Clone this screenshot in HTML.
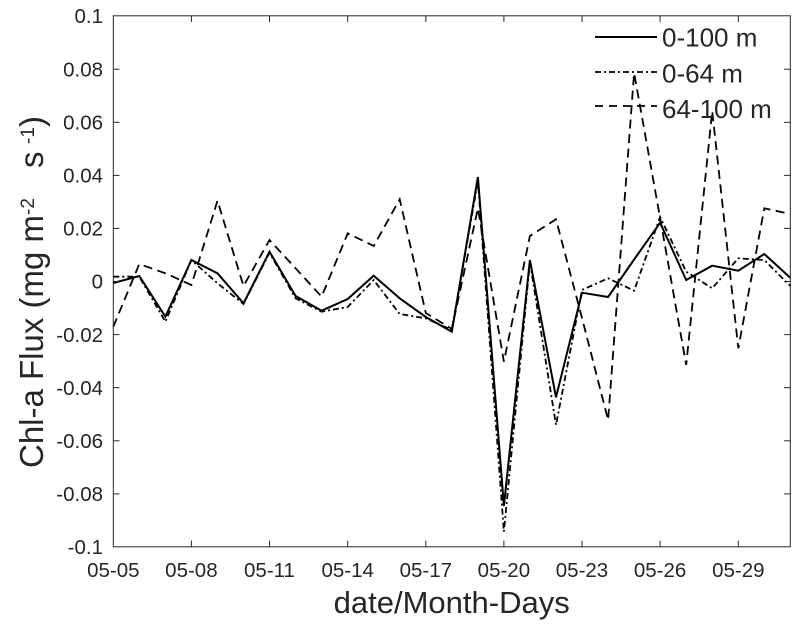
<!DOCTYPE html>
<html>
<head>
<meta charset="utf-8">
<style>
html,body{margin:0;padding:0;background:#fff;}
svg{display:block;}
text{font-family:"Liberation Sans",Arial,sans-serif;fill:#262626;}
</style>
</head>
<body>
<svg width="806" height="630" viewBox="0 0 806 630" xmlns="http://www.w3.org/2000/svg">
<rect width="806" height="630" fill="#fff"/>

<!-- series: 0-100 m (solid) -->
<polyline fill="none" stroke="#000" stroke-width="2" stroke-linejoin="miter" points="
113.3,283 139.3,276 165.4,316.7 191.4,260 217.5,273.3 243.5,303.3 269.5,251.7 295.6,296 321.6,310.7 347.7,299 373.7,275.7 399.7,298.3 425.8,317 451.8,331.7 477.9,177 503.9,506 529.9,260 556,397.3 582,292.7 608.1,297 634.1,259.5 660.1,222.7 686.2,280 712.2,265.7 738.3,270.7 764.3,254 790.3,277.7"/>

<!-- series: 0-64 m (dash-dot) -->
<polyline fill="none" stroke="#000" stroke-width="1.8" stroke-dasharray="6 3 2 3" points="
113.3,276.7 139.3,276.7 165.4,321.7 191.4,260 217.5,283.3 243.5,304 269.5,252.7 295.6,298.3 321.6,311.7 347.7,307 373.7,280 399.7,314 425.8,318.3 451.8,330 477.9,181 503.9,531.7 529.9,262 556,425 582,290 608.1,278.3 634.1,290.7 660.1,217 686.2,271.7 712.2,288.3 738.3,258.3 764.3,260 790.3,286"/>

<!-- series: 64-100 m (dashed) -->
<polyline fill="none" stroke="#000" stroke-width="1.8" stroke-dasharray="9 5.5" points="
113.3,326.7 139.3,264 165.4,273.3 191.4,285 217.5,200.7 243.5,286 269.5,240 295.6,268.3 321.6,296.7 347.7,233.3 373.7,246 399.7,199.3 425.8,313 451.8,329 477.9,208.3 503.9,361.7 529.9,236 556,219.3 582,318 608.1,420 634.1,73 660.1,218 686.2,365 712.2,111 738.3,348.3 764.3,208.3 790.3,214"/>

<!-- axes box -->
<rect x="113.3" y="15.8" width="677" height="531" fill="none" stroke="#262626" stroke-width="1"/>

<!-- ticks -->
<g stroke="#262626" stroke-width="1">
  <line x1="113.3" y1="69.2" x2="119.5" y2="69.2"/><line x1="790.3" y1="69.2" x2="784.1" y2="69.2"/>
  <line x1="113.3" y1="122.3" x2="119.5" y2="122.3"/><line x1="790.3" y1="122.3" x2="784.1" y2="122.3"/>
  <line x1="113.3" y1="175.4" x2="119.5" y2="175.4"/><line x1="790.3" y1="175.4" x2="784.1" y2="175.4"/>
  <line x1="113.3" y1="228.4" x2="119.5" y2="228.4"/><line x1="790.3" y1="228.4" x2="784.1" y2="228.4"/>
  <line x1="113.3" y1="281.5" x2="119.5" y2="281.5"/><line x1="790.3" y1="281.5" x2="784.1" y2="281.5"/>
  <line x1="113.3" y1="334.6" x2="119.5" y2="334.6"/><line x1="790.3" y1="334.6" x2="784.1" y2="334.6"/>
  <line x1="113.3" y1="387.7" x2="119.5" y2="387.7"/><line x1="790.3" y1="387.7" x2="784.1" y2="387.7"/>
  <line x1="113.3" y1="440.8" x2="119.5" y2="440.8"/><line x1="790.3" y1="440.8" x2="784.1" y2="440.8"/>
  <line x1="113.3" y1="493.9" x2="119.5" y2="493.9"/><line x1="790.3" y1="493.9" x2="784.1" y2="493.9"/>
  <line x1="191.4" y1="546.8" x2="191.4" y2="540.6"/><line x1="191.4" y1="15.8" x2="191.4" y2="22"/>
  <line x1="269.5" y1="546.8" x2="269.5" y2="540.6"/><line x1="269.5" y1="15.8" x2="269.5" y2="22"/>
  <line x1="347.7" y1="546.8" x2="347.7" y2="540.6"/><line x1="347.7" y1="15.8" x2="347.7" y2="22"/>
  <line x1="425.8" y1="546.8" x2="425.8" y2="540.6"/><line x1="425.8" y1="15.8" x2="425.8" y2="22"/>
  <line x1="503.9" y1="546.8" x2="503.9" y2="540.6"/><line x1="503.9" y1="15.8" x2="503.9" y2="22"/>
  <line x1="582" y1="546.8" x2="582" y2="540.6"/><line x1="582" y1="15.8" x2="582" y2="22"/>
  <line x1="660.1" y1="546.8" x2="660.1" y2="540.6"/><line x1="660.1" y1="15.8" x2="660.1" y2="22"/>
  <line x1="738.3" y1="546.8" x2="738.3" y2="540.6"/><line x1="738.3" y1="15.8" x2="738.3" y2="22"/>
</g>

<!-- y tick labels -->
<g font-size="20.5" text-anchor="end">
  <text x="103" y="23">0.1</text>
  <text x="103" y="76.4">0.08</text>
  <text x="103" y="129.5">0.06</text>
  <text x="103" y="182.6">0.04</text>
  <text x="103" y="235.6">0.02</text>
  <text x="103" y="288.7">0</text>
  <text x="103" y="341.8">-0.02</text>
  <text x="103" y="394.9">-0.04</text>
  <text x="103" y="448">-0.06</text>
  <text x="103" y="501.1">-0.08</text>
  <text x="103" y="554">-0.1</text>
</g>

<!-- x tick labels -->
<g font-size="20.5" text-anchor="middle">
  <text x="113.3" y="577">05-05</text>
  <text x="191.4" y="577">05-08</text>
  <text x="269.5" y="577">05-11</text>
  <text x="347.7" y="577">05-14</text>
  <text x="425.8" y="577">05-17</text>
  <text x="503.9" y="577">05-20</text>
  <text x="582" y="577">05-23</text>
  <text x="660.1" y="577">05-26</text>
  <text x="738.3" y="577">05-29</text>
</g>

<!-- x label -->
<text x="451.7" y="613" font-size="31" text-anchor="middle">date/Month-Days</text>

<!-- y label -->
<g transform="translate(43,468) rotate(-90)">
  <text x="0" y="0" font-size="33">Chl-a Flux (mg m</text>
  <text x="253" y="-9" font-size="19">-2</text>
  <text x="300" y="0" font-size="33">s</text>
  <text x="324" y="-9" font-size="19">-1</text>
  <text x="341" y="0" font-size="33">)</text>
</g>

<!-- legend -->
<g>
  <line x1="595" y1="37" x2="657" y2="37" stroke="#000" stroke-width="2"/>
  <line x1="595" y1="72" x2="657" y2="72" stroke="#000" stroke-width="1.8" stroke-dasharray="6 3 2 3"/>
  <line x1="595" y1="106" x2="657" y2="106" stroke="#000" stroke-width="1.8" stroke-dasharray="8 6"/>
  <text x="662" y="46.5" font-size="26">0-100 m</text>
  <text x="662" y="82.5" font-size="26">0-64 m</text>
  <text x="662" y="118" font-size="26">64-100 m</text>
</g>
</svg>
</body>
</html>
